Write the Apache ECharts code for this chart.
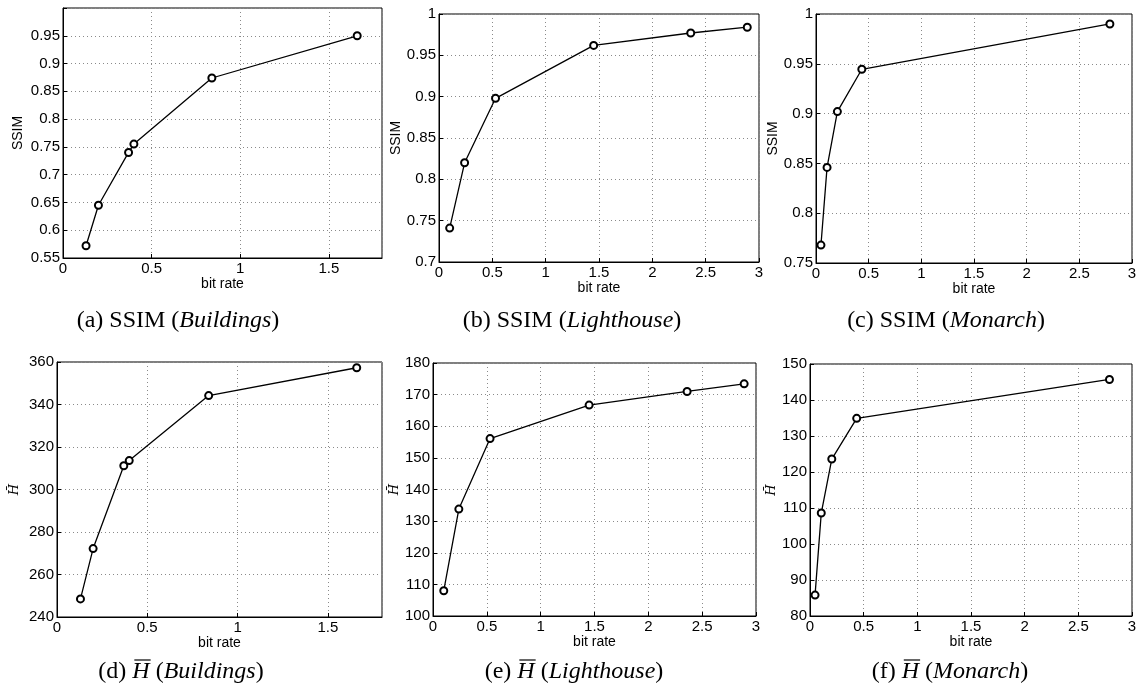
<!DOCTYPE html>
<html>
<head>
<meta charset="utf-8">
<script src="https://cdn.jsdelivr.net/npm/echarts@6/dist/echarts.min.js"></script>
<style>
html, body { margin: 0; padding: 0; background: #fff; }
#main { width: 1141px; height: 693px; }
</style>
</head>
<body>
<div id="main"></div>
<script>
// bit rate vs quality, three test images
var bitRateB = [0.13, 0.20, 0.37, 0.40, 0.84, 1.66]
var ssimB = [0.572, 0.645, 0.740, 0.755, 0.874, 0.950]
var hBarB = [248.5, 272.2, 311.2, 313.6, 344.2, 357.3]

var bitRateL = [0.10, 0.24, 0.53, 1.45, 2.36, 2.89]
var ssimL = [0.741, 0.820, 0.898, 0.962, 0.977, 0.984]
var hBarL = [108.0, 133.8, 156.1, 166.7, 171.0, 173.4]

var bitRateM = [0.047, 0.105, 0.203, 0.435, 2.79]
var ssimM = [0.768, 0.846, 0.902, 0.9445, 0.990]
var hBarM = [85.8, 108.6, 123.6, 134.9, 145.7]

var xLabel = 'bit rate'
var ssimLabel = 'SSIM'
var hLabel = 'H\u0304'

function zip(xs, ys) {
	return xs.map(function(x, i) { return [x, ys[i]] })
}

// panel layout: grid box, axis ranges, name gap
var panels = [
	{ x: bitRateB, y: ssimB, name: ssimLabel, box: [63, 8, 319, 250], xMax: 1.8, yMin: 0.55, yMax: 1, yStep: 0.05, gap: 38, hideTop: true },
	{ x: bitRateL, y: ssimL, name: ssimLabel, box: [439, 14, 320, 248], xMax: 3, yMin: 0.7, yMax: 1, yStep: 0.05, gap: 36 },
	{ x: bitRateM, y: ssimM, name: ssimLabel, box: [816, 14, 316, 249], xMax: 3, yMin: 0.75, yMax: 1, yStep: 0.05, gap: 35 },
	{ x: bitRateB, y: hBarB, name: hLabel, box: [57, 362, 325, 255], xMax: 1.8, yMin: 240, yMax: 360, yStep: 20, gap: 36, serif: true },
	{ x: bitRateL, y: hBarL, name: hLabel, box: [433, 363, 323, 253], xMax: 3, yMin: 100, yMax: 180, yStep: 10, gap: 31, serif: true },
	{ x: bitRateM, y: hBarM, name: hLabel, box: [810, 364, 322, 252], xMax: 3, yMin: 80, yMax: 150, yStep: 10, gap: 30, serif: true }
]

var captions = [
	{ cx: 178, cy: 321, parts: [['(a) SSIM (', 0], ['Buildings', 1], [')', 0]] },
	{ cx: 572, cy: 321, parts: [['(b) SSIM (', 0], ['Lighthouse', 1], [')', 0]] },
	{ cx: 946, cy: 321, parts: [['(c) SSIM (', 0], ['Monarch', 1], [')', 0]] },
	{ cx: 181, cy: 672, parts: [['(d) ', 0], ['H', 2], [' (', 0], ['Buildings', 1], [')', 0]] },
	{ cx: 574, cy: 672, parts: [['(e) ', 0], ['H', 2], [' (', 0], ['Lighthouse', 1], [')', 0]] },
	{ cx: 950, cy: 672, parts: [['(f) ', 0], ['H', 2], [' (', 0], ['Monarch', 1], [')', 0]] }
]

var tickFont = 'Liberation Sans'
var capSize = 24
var measureCtx = document.createElement('canvas').getContext('2d')

function capFont(italic) {
	return (italic ? 'italic ' : '') + capSize + 'px "Liberation Serif"'
}

function buildCaption(cap) {
	var widths = cap.parts.map(function(p) {
		measureCtx.font = capFont(p[1] > 0)
		return measureCtx.measureText(p[0]).width
	})
	var total = widths.reduce(function(a, b) { return a + b }, 0)
	var x = cap.cx - total / 2
	var els = []
	cap.parts.forEach(function(p, i) {
		els.push({
			type: 'text',
			x: x,
			y: cap.cy,
			style: {
				text: p[0],
				font: capFont(p[1] > 0),
				fill: '#000',
				align: 'left',
				verticalAlign: 'middle'
			}
		})
		if (p[1] === 2) {
			els.push({
				type: 'line',
				shape: { x1: x + 2, y1: cap.cy - 12, x2: x + widths[i] + 1, y2: cap.cy - 12 },
				style: { stroke: '#000', lineWidth: 1.2 }
			})
		}
		x += widths[i]
	})
	return els
}

var myChart = echarts.init(document.getElementById('main'))

var grids = [], xAxes = [], yAxes = [], series = [], graphic = []
panels.forEach(function(p, i) {
	grids.push({
		left: p.box[0], top: p.box[1], width: p.box[2], height: p.box[3],
		show: true, borderColor: '#000', borderWidth: 1, backgroundColor: '#fff',
		containLabel: false
	})
	xAxes.push({
		type: 'value', gridIndex: i, min: 0, max: p.xMax, interval: 0.5,
		name: xLabel, nameLocation: 'middle', nameGap: 12,
		nameTextStyle: { fontFamily: tickFont, fontSize: 14, color: '#000' },
		axisLine: { show: true, lineStyle: { color: '#000', width: 1 } },
		axisTick: { show: true, inside: true, length: 4, lineStyle: { color: '#000' } },
		axisLabel: { fontFamily: tickFont, fontSize: 15, color: '#000', margin: 3, showMaxLabel: p.xMax === 3 },
		splitLine: { show: true, lineStyle: { color: '#8a8a8a', type: [1, 3], width: 1 } }
	})
	yAxes.push({
		type: 'value', gridIndex: i, min: p.yMin, max: p.yMax, interval: p.yStep,
		name: p.name, nameLocation: 'middle', nameGap: p.gap, nameRotate: 90,
		nameTextStyle: p.serif
			? { fontFamily: 'DejaVu Serif', fontStyle: 'italic', fontSize: 13, color: '#000' }
			: { fontFamily: tickFont, fontSize: 14, color: '#000' },
		axisLine: { show: true, lineStyle: { color: '#000', width: 1 } },
		axisTick: { show: true, inside: true, length: 4, lineStyle: { color: '#000' } },
		axisLabel: {
			fontFamily: tickFont, fontSize: 15, color: '#000', margin: 3,
			formatter: function(v) {
				if (p.hideTop && v >= p.yMax - 1e-9) return ''
				return String(+v.toFixed(3))
			}
		},
		splitLine: { show: true, lineStyle: { color: '#8a8a8a', type: [1, 3], width: 1 } }
	})
	series.push({
		type: 'line', xAxisIndex: i, yAxisIndex: i,
		data: zip(p.x, p.y),
		symbol: 'emptyCircle', symbolSize: 7, showSymbol: true,
		lineStyle: { color: '#000', width: 1.3 },
		itemStyle: { color: '#000', borderColor: '#000', borderWidth: 1.2 },
		animation: false, silent: true
	})
})
captions.forEach(function(c) {
	graphic = graphic.concat(buildCaption(c))
})

var option = {
	animation: false,
	backgroundColor: '#fff',
	grid: grids,
	xAxis: xAxes,
	yAxis: yAxes,
	series: series,
	graphic: graphic
}
myChart.setOption(option)
</script>
</body>
</html>
